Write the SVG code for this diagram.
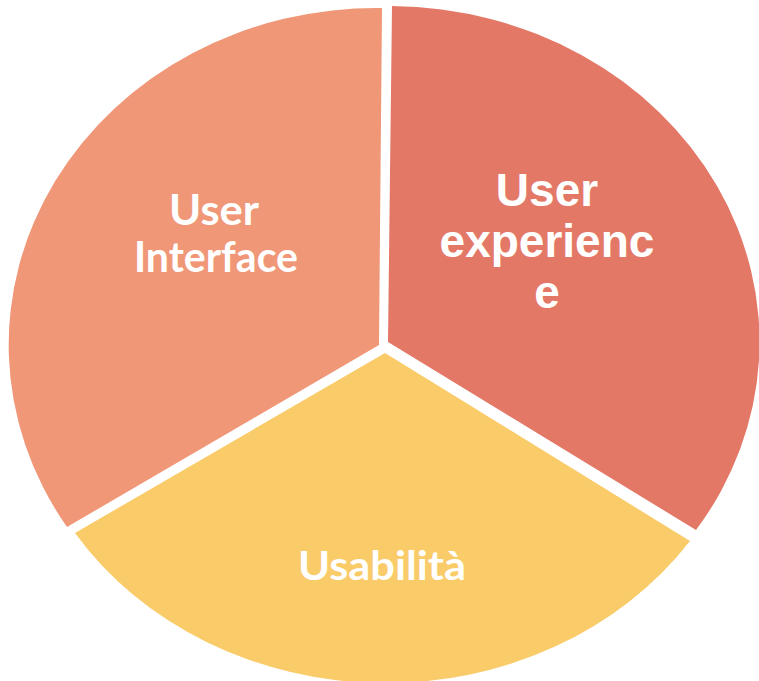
<svg xmlns="http://www.w3.org/2000/svg" width="759" height="681" viewBox="0 0 759 681">
<style>
.lbl{fill:#ffffff;font-weight:bold;text-anchor:middle}
.cal{font-family:Lato,"Open Sans","Liberation Sans",sans-serif}
.ari{font-family:"Liberation Sans",Arial,sans-serif}
</style>
<rect width="759" height="681" fill="#ffffff"/>
<g id="slice-user-interface">
<path d="M 379 345 L 382 8 A 368 337 0 0 0 67 527 Z" fill="#F09778"/>
<text class="lbl cal" font-size="42" x="214" y="225" textLength="90" lengthAdjust="spacingAndGlyphs">User</text>
<text class="lbl cal" font-size="42" x="216" y="272" textLength="164" lengthAdjust="spacingAndGlyphs">Interface</text>
</g>
<g id="slice-user-experience">
<path d="M 388 342 L 392 6 A 371 336 0 0 1 696 530 Z" fill="#E37867"/>
<text class="lbl ari" font-size="46" x="547" y="206">User</text>
<text class="lbl ari" font-size="46" x="547" y="257">experienc</text>
<text class="lbl ari" font-size="46" x="547" y="308">e</text>
</g>
<g id="slice-usabilita">
<path d="M 385 353 L 690 541 A 370 329 0 0 1 75 533 Z" fill="#F9CB69"/>
<text class="lbl cal" font-size="40" x="382" y="580" textLength="168" lengthAdjust="spacingAndGlyphs">Usabilità</text>
</g>
<g id="connectors"></g>
</svg>
